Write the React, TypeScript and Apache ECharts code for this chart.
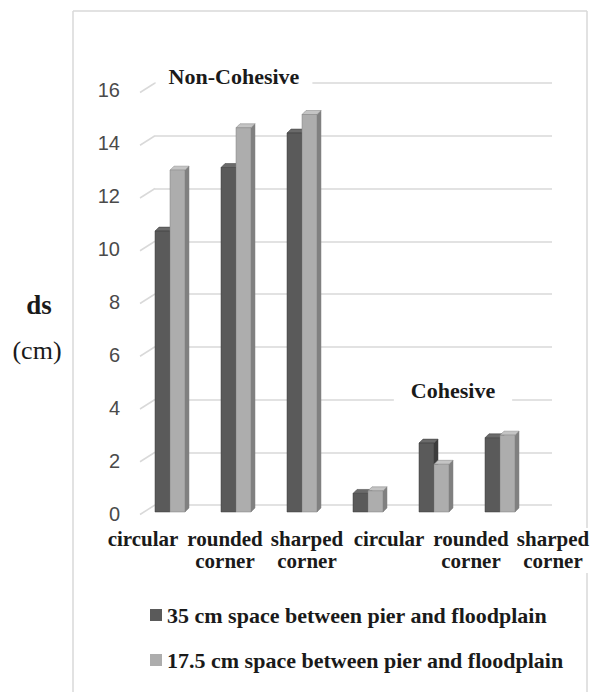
import React, { useEffect, useRef } from "react";
import * as echarts from "echarts";

const categories = ["circular", "rounded corner", "sharped corner", "circular", "rounded corner", "sharped corner"];
const series35 = [10.6, 13.0, 14.3, 0.7, 2.6, 2.8];
const series175 = [12.9, 14.5, 15.0, 0.8, 1.8, 2.9];
const seriesNames = ["35 cm space between pier and floodplain", "17.5 cm space between pier and floodplain"];
const yTicks = [0, 2, 4, 6, 8, 10, 12, 14, 16];

const SERIF = "'Liberation Serif', 'Times New Roman', serif";

function bar3d(offset: number, front: string, side: string, top: string) {
  return (params: any, api: any) => {
    const idx = api.value(0);
    const v = api.value(1);
    const base = api.coord([idx, 0]);
    const tp = api.coord([idx, v]);
    const bw = 15;
    const d = 4;
    const x = base[0] - 2 + offset;
    const y0 = base[1];
    const y1 = tp[1];
    return {
      type: "group",
      children: [
        {
          type: "polygon",
          shape: { points: [[x + bw, y1], [x + bw + d, y1 - d], [x + bw + d, y0 - d], [x + bw, y0]] },
          style: { fill: side, stroke: side, lineWidth: 0.5 },
        },
        {
          type: "polygon",
          shape: { points: [[x, y1], [x + d, y1 - d], [x + bw + d, y1 - d], [x + bw, y1]] },
          style: { fill: top, stroke: side, lineWidth: 0.5 },
        },
        {
          type: "rect",
          shape: { x, y: y1, width: bw, height: y0 - y1 },
          style: { fill: front, stroke: side, lineWidth: 0.5 },
        },
      ],
    };
  };
}

export default function App() {
  const ref = useRef<HTMLDivElement>(null);
  useEffect(() => {
    if (!ref.current) return;
    const chart = echarts.init(ref.current, null, { renderer: "svg" });
    const grid = "#d9d9d9";
    chart.setOption({
      animation: false,
      backgroundColor: "#fff",
      grid: [
        { left: 155, right: 42, top: 83, bottom: 187 },
        { left: 139, right: 59, top: 88, bottom: 180 },
        { left: 124, width: 10, top: 90, bottom: 178 },
        { left: 102, right: 0, top: 92, bottom: 176 },
      ],
      xAxis: [
        { type: "category", gridIndex: 0, data: categories, show: false },
        { type: "category", gridIndex: 1, data: categories, show: false },
        { type: "value", gridIndex: 2, show: false },
        {
          type: "category",
          gridIndex: 3,
          data: categories,
          axisLine: { show: false },
          axisTick: { show: false },
          axisLabel: {
            interval: 0,
            margin: 12,
            fontFamily: SERIF,
            fontWeight: "bold",
            fontSize: 21,
            lineHeight: 22,
            color: "#1a1a1a",
            formatter: (v: string) => v.replace(" ", "\n"),
          },
        },
      ],
      yAxis: [
        {
          type: "value",
          gridIndex: 0,
          min: 0,
          max: 16,
          interval: 2,
          axisLabel: { show: false },
          axisLine: { show: false },
          axisTick: { show: false },
          splitLine: { show: true, lineStyle: { color: grid, width: 1.5 } },
        },
        { type: "value", gridIndex: 1, min: 0, max: 16, interval: 2, show: false },
        {
          type: "value",
          gridIndex: 2,
          min: 0,
          max: 16,
          interval: 2,
          axisLine: { show: false },
          axisTick: { show: false },
          splitLine: { show: false },
          axisLabel: { margin: 4, fontFamily: "'Liberation Sans', Arial, sans-serif", fontSize: 20, color: "#4a4a4a" },
        },
        { type: "value", gridIndex: 3, min: 0, max: 1, show: false },
      ],
      legend: {
        orient: "vertical",
        left: 145,
        top: 599,
        itemWidth: 12,
        itemHeight: 12,
        itemGap: 23,
        icon: "rect",
        data: seriesNames,
        textStyle: { fontFamily: SERIF, fontWeight: "bold", fontSize: 22, lineHeight: 22, color: "#1a1a1a" },
      },
      series: [
        {
          type: "custom",
          name: "stubs",
          xAxisIndex: 0,
          yAxisIndex: 0,
          data: yTicks.map((t) => [0, t]),
          silent: true,
          renderItem: (params: any, api: any) => {
            const p = api.coord([0, api.value(1)]);
            const w = api.size([1, 0])[0];
            const left = p[0] - w / 2;
            return {
              type: "line",
              shape: { x1: left - 15, y1: p[1] + 9.5, x2: left, y2: p[1] },
              style: { stroke: grid, lineWidth: 1.5 },
            };
          },
        },
        {
          type: "custom",
          name: seriesNames[0],
          xAxisIndex: 1,
          yAxisIndex: 1,
          itemStyle: { color: "#5a5a5a" },
          data: series35.map((v, i) => [i, v]),
          renderItem: bar3d(-15, "#5a5a5a", "#3c3c3c", "#6a6a6a"),
          z: 3,
        },
        {
          type: "custom",
          name: seriesNames[1],
          xAxisIndex: 1,
          yAxisIndex: 1,
          itemStyle: { color: "#adadad" },
          data: series175.map((v, i) => [i, v]),
          renderItem: bar3d(0, "#adadad", "#808080", "#c4c4c4"),
          z: 4,
        },
      ],
      graphic: [
        { type: "line", z: 1, shape: { x1: 73, y1: 11, x2: 587, y2: 11 }, style: { stroke: grid, lineWidth: 1.5 } },
        { type: "line", z: 1, shape: { x1: 73, y1: 11, x2: 73, y2: 692 }, style: { stroke: grid, lineWidth: 1.5 } },
        { type: "line", z: 1, shape: { x1: 587, y1: 11, x2: 587, y2: 528 }, style: { stroke: grid, lineWidth: 1.5 } },
        { type: "line", z: 1, shape: { x1: 587, y1: 573, x2: 587, y2: 692 }, style: { stroke: grid, lineWidth: 1.5 } },
        {
          type: "text",
          z: 100,
          x: 234,
          y: 76,
          style: {
            text: "Non-Cohesive",
            fontFamily: SERIF,
            fontWeight: "bold",
            fontSize: 22,
            fill: "#1a1a1a",
            align: "center",
            verticalAlign: "middle",
            backgroundColor: "#fff",
            padding: [2, 13, 2, 13],
          },
        },
        {
          type: "text",
          z: 100,
          x: 453,
          y: 390,
          style: {
            text: "Cohesive",
            fontFamily: SERIF,
            fontWeight: "bold",
            fontSize: 22,
            fill: "#1a1a1a",
            align: "center",
            verticalAlign: "middle",
            backgroundColor: "#fff",
            padding: [2, 17, 2, 17],
          },
        },
        {
          type: "text",
          x: 39,
          y: 305,
          style: { text: "ds", fontFamily: SERIF, fontWeight: "bold", fontSize: 27, fill: "#1a1a1a", align: "center", verticalAlign: "middle" },
        },
        {
          type: "text",
          x: 37,
          y: 350,
          style: { text: "(cm)", fontFamily: SERIF, fontSize: 26, fill: "#1a1a1a", align: "center", verticalAlign: "middle" },
        },
      ],
    });
    return () => chart.dispose();
  }, []);
  return <div ref={ref} style={{ width: 594, height: 692, position: "absolute", left: 0, top: 0 }} />;
}
